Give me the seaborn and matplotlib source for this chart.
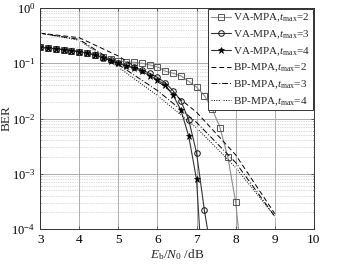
import numpy as np
import pandas as pd
import matplotlib
matplotlib.use("Agg")
import matplotlib.pyplot as plt
import seaborn as sns
from matplotlib.ticker import LogLocator, NullFormatter

# ---------------- data ----------------
x_va = [3.0, 3.2, 3.4, 3.6, 3.8, 4.0, 4.2, 4.4, 4.6, 4.8, 5.0, 5.2, 5.4, 5.6,
        5.8, 6.0, 6.2, 6.4, 6.6, 6.8, 7.0, 7.2, 7.4, 7.6, 7.8, 8.0, 8.2]
va_t2 = [0.195, 0.188, 0.182, 0.176, 0.169, 0.162, 0.152, 0.142, 0.131, 0.120,
         0.110, 0.106, 0.104, 0.100, 0.093, 0.086, 0.072, 0.066, 0.059, 0.047,
         0.037, 0.026, 0.015, 0.0068, 0.002, 0.00031, 0.000013]
x_va3 = [3.0, 3.2, 3.4, 3.6, 3.8, 4.0, 4.2, 4.4, 4.6, 4.8, 5.0, 5.2, 5.4, 5.6,
         5.8, 6.0, 6.2, 6.4, 6.6, 6.8, 7.0, 7.2, 7.4]
va_t3 = [0.195, 0.188, 0.182, 0.176, 0.169, 0.162, 0.152, 0.141, 0.127, 0.113,
         0.100, 0.092, 0.084, 0.076, 0.0656, 0.0555, 0.0443, 0.0318, 0.0209,
         0.0094, 0.0024, 0.00022, 0.00003]
x_va4 = [3.0, 3.2, 3.4, 3.6, 3.8, 4.0, 4.2, 4.4, 4.6, 4.8, 5.0, 5.2, 5.4, 5.6,
         5.8, 6.0, 6.2, 6.4, 6.6, 6.8, 7.0, 7.2]
va_t4 = [0.195, 0.188, 0.182, 0.176, 0.169, 0.162, 0.152, 0.141, 0.126, 0.112,
         0.099, 0.090, 0.081, 0.071, 0.060, 0.050, 0.0403, 0.0265, 0.0142,
         0.0048, 0.00079, 0.000004]

x_bp = [3, 4, 5, 6, 7, 8, 9]
bp_t2 = [0.35, 0.29, 0.135, 0.048, 0.013, 0.0022, 0.00019]
bp_t3 = [0.35, 0.27, 0.095, 0.032, 0.0085, 0.0016, 0.00017]
bp_t4 = [0.35, 0.26, 0.085, 0.026, 0.0068, 0.0013, 0.00017]

labels = ["VA-MPA,$t_{\\mathrm{max}}$=2", "VA-MPA,$t_{\\mathrm{max}}$=3",
          "VA-MPA,$t_{\\mathrm{max}}$=4", "BP-MPA,$t_{\\mathrm{max}}$=2",
          "BP-MPA,$t_{\\mathrm{max}}$=3", "BP-MPA,$t_{\\mathrm{max}}$=4"]

x_ticks = [3, 4, 5, 6, 7, 8, 9, 10]

# ---------------- style ----------------
sns.set_style("ticks")
plt.rcParams["font.family"] = ["Liberation Serif", "DejaVu Serif"]
plt.rcParams["mathtext.fontset"] = "custom"
plt.rcParams["mathtext.rm"] = "Liberation Serif"
plt.rcParams["mathtext.it"] = "Liberation Serif:italic"

fig = plt.figure(figsize=(3.43, 2.66), dpi=100)
ax = fig.add_axes([0.117, 0.139, 0.798, 0.831])

series = [
    (x_va, va_t2, dict(color="#8c8c8c", marker="s", markersize=4, mfc="none",
                       mec="#555555", mew=0.7, linestyle="-", lw=0.8)),
    (x_va3, va_t3, dict(color="#333333", marker="o", markersize=4, mfc="none",
                        mec="#111111", mew=0.7, linestyle="-", lw=0.8)),
    (x_va4, va_t4, dict(color="#333333", marker="*", markersize=4.5, mfc="black",
                        mec="black", mew=0.5, linestyle="-", lw=0.8)),
    (x_bp, bp_t2, dict(color="black", linestyle=(0, (5, 3)), lw=0.7)),
    (x_bp, bp_t3, dict(color="black", linestyle=(0, (6, 2, 1, 2)), lw=0.7)),
    (x_bp, bp_t4, dict(color="black", linestyle=(0, (1, 1.5)), lw=0.7,
                       marker=".", markersize=2)),
]

for (xs, ys, kw), lab in zip(series, labels):
    df = pd.DataFrame({"x": xs, "y": ys})
    sns.lineplot(data=df, x="x", y="y", ax=ax, estimator=None, sort=False,
                 label=lab, **kw)

ax.set_yscale("log")
ax.set_xlim(3, 10)
ax.set_ylim(1e-4, 1)
ax.set_xticks(x_ticks)
ax.set_xticklabels([str(t) for t in x_ticks])
ax.yaxis.set_major_locator(LogLocator(base=10, numticks=10))
ax.yaxis.set_minor_locator(LogLocator(base=10, subs=np.arange(2, 10), numticks=20))
ax.yaxis.set_minor_formatter(NullFormatter())

ax.grid(True, which="major", color="#a0a0a0", lw=0.6, ls="-")
ax.grid(True, which="minor", axis="y", color="#b8b8b8", lw=0.5, ls=(0, (1, 1.5)))
ax.set_axisbelow(True)

for s in ax.spines.values():
    s.set_color("#333333")
    s.set_linewidth(0.7)
ax.tick_params(axis="both", which="both", direction="in", labelsize=9,
               length=2, width=0.5, colors="#333333", labelcolor="black")
ax.tick_params(axis="x", labelsize=9.5)
ax.tick_params(axis="y", which="minor", length=1)
ax.tick_params(top=True, right=True, which="both")

ax.set_xlabel("$E_{\\mathrm{b}}/N_{0}$ /dB", fontsize=9.5, labelpad=1)
ax.set_ylabel("BER", fontsize=9.5)
ax.yaxis.set_label_coords(-0.1, 0.5)

leg = ax.legend(loc="upper right", fontsize=8, frameon=True, fancybox=False,
                edgecolor="#333333", framealpha=1, borderpad=0.25,
                labelspacing=0.38, handlelength=1.8, handletextpad=0.2,
                borderaxespad=0.1)
leg.get_frame().set_linewidth(0.7)

fig.savefig("out.png", dpi=100)
